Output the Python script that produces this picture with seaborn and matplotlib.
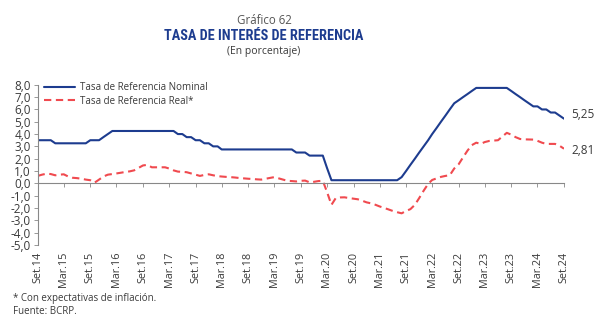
import numpy as np
import pandas as pd
import matplotlib
matplotlib.use("Agg")
import matplotlib.pyplot as plt
from matplotlib import font_manager
import seaborn as sns

# ---------------- data ----------------
nominal = ([3.5] * 4 + [3.25] * 8 + [3.5] * 3 + [3.75, 4.0] + [4.25] * 15 +
           [4.0] * 2 + [3.75] * 2 + [3.5] * 2 + [3.25] * 2 + [3.0] * 2 +
           [2.75] * 17 + [2.5] * 3 + [2.25] * 4 + [1.25] + [0.25] * 16 +
           [0.5, 1.0, 1.5, 2.0, 2.5, 3.0, 3.5, 4.0, 4.5, 5.0, 5.5, 6.0, 6.5,
            6.75, 7.0, 7.25, 7.5] + [7.75] * 8 +
           [7.5, 7.25, 7.0, 6.75, 6.5, 6.25, 6.25, 6.0, 6.0, 5.75, 5.75, 5.5, 5.25])

real = [0.60, 0.70, 0.78, 0.75, 0.65, 0.70, 0.73, 0.55, 0.45, 0.42, 0.37, 0.30,
        0.25, 0.05, 0.30, 0.55, 0.70, 0.75, 0.80, 0.86, 0.92, 0.97, 1.05, 1.25,
        1.45, 1.50, 1.30, 1.30, 1.30, 1.30, 1.20, 1.05, 0.95, 0.93, 0.90, 0.80,
        0.70, 0.60, 0.68, 0.73, 0.65, 0.58, 0.55, 0.52, 0.50, 0.47, 0.43, 0.40,
        0.37, 0.35, 0.32, 0.30, 0.37, 0.44, 0.50, 0.40, 0.30, 0.20, 0.18, 0.15,
        0.20, 0.22, 0.08, 0.12, 0.18, 0.20, -0.70, -1.75, -1.20, -1.15, -1.14, -1.20,
        -1.25, -1.30, -1.42, -1.55, -1.63, -1.75, -1.88, -2.00, -2.12, -2.25, -2.35, -2.44,
        -2.25, -2.10, -1.75, -1.20, -0.60, -0.05, 0.27, 0.40, 0.52, 0.60, 0.65, 1.20,
        1.55, 2.10, 2.65, 3.10, 3.30, 3.20, 3.35, 3.44, 3.47, 3.50, 3.80, 4.10,
        3.95, 3.75, 3.60, 3.57, 3.56, 3.55, 3.45, 3.30, 3.20, 3.20, 3.20, 3.05,
        2.81]

tick_labels = ["Set.14", "Mar.15", "Set.15", "Mar.16", "Set.16", "Mar.17", "Set.17",
               "Mar.18", "Set.18", "Mar.19", "Set.19", "Mar.20", "Set.20", "Mar.21",
               "Set.21", "Mar.22", "Set.22", "Mar.23", "Set.23", "Mar.24", "Set.24"]
y_ticks = [8, 7, 6, 5, 4, 3, 2, 1, 0, -1, -2, -3, -4, -5]

series_names = ["Tasa de Referencia Nominal", "Tasa de Referencia Real*"]
end_labels = ["5,25", "2,81"]

assert len(nominal) == len(real) == 121

dates = pd.date_range("2014-09-01", periods=len(nominal), freq="MS")
df = pd.DataFrame({
    "fecha": list(dates) * 2,
    "valor": nominal + real,
    "serie": [series_names[0]] * len(nominal) + [series_names[1]] * len(real),
})

# ---------------- style ----------------
sns.set_theme(style="white")
plt.rcParams["font.family"] = ["Open Sans", "DejaVu Sans"]


def first_font(cands):
    for c in cands:
        try:
            font_manager.findfont(font_manager.FontProperties(family=c),
                                  fallback_to_default=False)
            return c
        except Exception:
            continue
    return "DejaVu Sans"


title_font = first_font(["Roboto Condensed", "Liberation Sans Narrow",
                         "Open Sans Condensed", "Noto Sans Display", "Roboto",
                         "Open Sans"])

BLUE = "#1d3c8f"
RED = "#f04a4f"
TXT = "#3a3a3a"

fig = plt.figure(figsize=(6.0, 3.34), dpi=100)
ax = fig.add_axes([0.0628, 0.267, 0.8772, 0.479])

sns.lineplot(data=df, x="fecha", y="valor", hue="serie", style="serie",
             palette={series_names[0]: BLUE, series_names[1]: RED},
             dashes={series_names[0]: "", series_names[1]: (3.5, 2.2)},
             linewidth=1.5, ax=ax, legend=False)

ax.set_xlim(dates[0], dates[-1])
ax.set_ylim(-5, 8)
ax.set_xlabel("")
ax.set_ylabel("")

# y axis
ax.set_yticks(y_ticks)
ax.set_yticklabels([f"{v:.1f}".replace(".", ",") for v in y_ticks],
                   fontsize=8.5, color=TXT)
ax.tick_params(axis="y", length=3, width=0.6, color="#888888", pad=2, left=True)

# x axis: spine at zero, labels at the bottom via secondary axis
tick_pos = dates[::6]
for s in ["top", "right"]:
    ax.spines[s].set_visible(False)
ax.spines["left"].set_color("#888888")
ax.spines["left"].set_linewidth(0.8)
ax.spines["bottom"].set_position(("data", 0))
ax.spines["bottom"].set_color("#888888")
ax.spines["bottom"].set_linewidth(0.8)
ax.set_xticks(tick_pos)
ax.set_xticklabels([])
ax.tick_params(axis="x", direction="out", length=3, width=0.6, color="#888888",
               bottom=True)

sec = ax.secondary_xaxis("bottom")
sec.set_xticks(tick_pos)
sec.set_xticklabels(tick_labels, rotation=90, fontsize=7.8, color=TXT)
sec.tick_params(length=0, pad=5)
sec.spines["bottom"].set_visible(False)

# legend
handles = [plt.Line2D([], [], color=BLUE, lw=1.5),
           plt.Line2D([], [], color=RED, lw=1.5, dashes=(3.5, 2.2))]
leg = ax.legend(handles, series_names, loc="upper left", bbox_to_anchor=(0.005, 1.04),
                frameon=False, fontsize=7, handlelength=3.2, handletextpad=0.5,
                labelspacing=0.25, borderaxespad=0)
for t in leg.get_texts():
    t.set_color(TXT)

# end labels
ax.annotate(end_labels[0], xy=(dates[-1], nominal[-1]), xytext=(5, 3),
            textcoords="offset points", fontsize=8.5, color=TXT, va="center")
ax.annotate(end_labels[1], xy=(dates[-1], real[-1]), xytext=(5, -1),
            textcoords="offset points", fontsize=8.5, color=TXT, va="center")

# titles
cx = 264 / 600
fig.text(cx, 1 - 20 / 334, "Gráfico 62", ha="center", va="center",
         fontsize=8.3, color="#555555")
title = fig.text(cx, 1 - 36 / 334, "TASA DE INTERÉS DE REFERENCIA", ha="center",
                 va="center", fontsize=10.5, fontweight="bold", color=BLUE,
                 family=[title_font, "DejaVu Sans"])
# fit title width to the reference (~200 px) without getting too small
renderer = fig.canvas.get_renderer()
w = title.get_window_extent(renderer).width
target = 200.0
if w > target:
    title.set_fontsize(max(8.5, 10.5 * target / w))
fig.text(cx, 1 - 51.5 / 334, "(En porcentaje)", ha="center", va="center",
         fontsize=7.5, color=TXT)

# footnotes
fig.text(13 / 600, 1 - 299 / 334, "* Con expectativas de inflación.", ha="left",
         va="center", fontsize=7, color=TXT)
fig.text(13 / 600, 1 - 311 / 334, "Fuente: BCRP.", ha="left", va="center",
         fontsize=7, color=TXT)

fig.savefig("out.png", dpi=100, facecolor="white")
